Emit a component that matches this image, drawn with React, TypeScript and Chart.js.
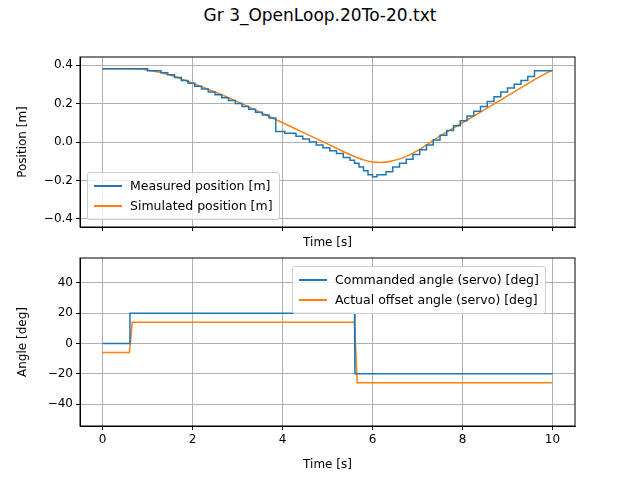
import Chart from "chart.js/auto";
import { useEffect, useRef } from "react";

const measT = [0, 1.0, 1.3, 1.45, 1.6, 1.75, 1.9, 2.05, 2.2, 2.35, 2.5, 2.65, 2.8, 2.95, 3.1, 3.25, 3.4, 3.55, 3.7, 3.85, 4.05, 4.3, 4.45, 4.6, 4.75, 4.9, 5.05, 5.2, 5.35, 5.5, 5.6, 5.7, 5.8, 5.9, 6.0, 6.1, 6.3, 6.45, 6.6, 6.75, 6.9, 7.05, 7.2, 7.35, 7.5, 7.65, 7.8, 7.95, 8.1, 8.25, 8.4, 8.55, 8.7, 8.85, 9.0, 9.15, 9.3, 9.45, 9.6, 9.75, 10.0];
const measY = [0.38, 0.38, 0.37, 0.36, 0.35, 0.335, 0.32, 0.305, 0.29, 0.275, 0.26, 0.245, 0.23, 0.215, 0.2, 0.185, 0.17, 0.155, 0.14, 0.125, 0.055, 0.045, 0.03, 0.015, 0.0, -0.015, -0.03, -0.045, -0.06, -0.08, -0.095, -0.11, -0.13, -0.15, -0.17, -0.18, -0.17, -0.155, -0.13, -0.11, -0.09, -0.065, -0.04, -0.015, 0.01, 0.035, 0.06, 0.085, 0.11, 0.135, 0.16, 0.185, 0.21, 0.235, 0.26, 0.28, 0.3, 0.32, 0.34, 0.37, 0.37];
const simT = [0, 0.5, 0.8, 1.0, 1.5, 2.0, 2.5, 3.0, 3.5, 4.0, 4.5, 5.0, 5.5, 5.8, 6.0, 6.2, 6.4, 6.7, 7.0, 7.5, 8.0, 8.5, 9.0, 9.5, 10.0];
const simY = [0.38, 0.38, 0.379, 0.374, 0.348, 0.306, 0.26, 0.21, 0.155, 0.1, 0.045, -0.01, -0.065, -0.093, -0.104, -0.106, -0.1, -0.08, -0.045, 0.03, 0.1, 0.17, 0.24, 0.31, 0.375];
const cmdT = [0, 0.6, 0.61, 5.6, 5.61, 10];
const cmdY = [0, 0, 20, 20, -20, -20];
const actT = [0, 0.6, 0.66, 5.6, 5.66, 10];
const actY = [-6, -6, 14, 14, -26, -26];

const FONT = "'DejaVu Sans', sans-serif";
const BLUE = "#1f77b4";
const ORANGE = "#ff7f0e";

const frame = {
  id: "frame",
  afterDraw(c: any) {
    const { ctx, chartArea: a } = c;
    ctx.save();
    ctx.strokeStyle = "#000";
    ctx.lineWidth = 1;
    ctx.strokeRect(a.left, a.top, a.right - a.left, a.bottom - a.top);
    ctx.restore();
  },
};

function makeChart(canvas: HTMLCanvasElement, sets: any[], yMin: number, yMax: number, yStep: number, yTitle: string, showX: boolean, padTop: number, padBottom: number, xH: number, dec: number) {
  const tickFont = { family: FONT, size: 12 };
  return new Chart(canvas, {
    type: "line",
    data: { datasets: sets },
    options: {
      animation: false,
      responsive: true,
      maintainAspectRatio: false,
      layout: { padding: { top: padTop, right: 65, left: 12, bottom: padBottom } },
      plugins: { legend: { display: false }, tooltip: { enabled: false } },
      elements: { point: { radius: 0 } },
      scales: {
        x: {
          type: "linear", min: -0.5, max: 10.5,
          afterBuildTicks: (s: any) => { s.ticks = [0, 2, 4, 6, 8, 10].map((v) => ({ value: v })); },
          afterFit: (s: any) => { s.height = xH; },
          grid: { color: "#b0b0b0", tickLength: 4, tickColor: "#000" },
          border: { color: "#000" },
          ticks: { display: showX, color: "#000", font: tickFont, maxRotation: 0 },
          title: { display: true, text: "Time [s]", color: "#000", font: tickFont, padding: { top: 2, bottom: 0 } },
        },
        y: {
          min: yMin, max: yMax,
          afterBuildTicks: (s: any) => {
            const t = [];
            for (let v = Math.ceil(yMin / yStep) * yStep; v <= yMax + 1e-9; v += yStep) t.push({ value: +v.toFixed(6) });
            s.ticks = t;
          },
          afterFit: (s: any) => { s.width = 68; },
          grid: { color: "#b0b0b0", tickLength: 4, tickColor: "#000" },
          border: { color: "#000" },
          ticks: { color: "#000", font: tickFont, callback: (v: any) => Number(v).toFixed(dec).replace("-", "\u2212") },
          title: { display: true, text: yTitle, color: "#000", font: tickFont },
        },
      },
    },
    plugins: [frame],
  });
}

function Legend({ items, style }: { items: [string, string][]; style: any }) {
  return (
    <div style={{ position: "absolute", background: "rgba(255,255,255,0.8)", border: "1px solid #ccc", borderRadius: 3, padding: "3px 6px", fontFamily: FONT, fontSize: 12.5, lineHeight: "20px", ...style }}>
      {items.map(([label, col]) => (
        <div key={label} style={{ display: "flex", alignItems: "center", whiteSpace: "nowrap" }}>
          <span style={{ display: "inline-block", width: 28, height: 2, background: col, marginRight: 8 }} />
          {label}
        </div>
      ))}
    </div>
  );
}

export default function App() {
  const topRef = useRef<HTMLCanvasElement | null>(null);
  const botRef = useRef<HTMLCanvasElement | null>(null);

  useEffect(() => {
    if (!topRef.current || !botRef.current) return;
    const line = { borderWidth: 1.5, fill: false, tension: 0 };
    const c1 = makeChart(topRef.current, [
      { ...line, label: "Measured position [m]", data: measT.map((t, i) => ({ x: t, y: measY[i] })), borderColor: BLUE, stepped: "after" },
      { ...line, label: "Simulated position [m]", data: simT.map((t, i) => ({ x: t, y: simY[i] })), borderColor: ORANGE, cubicInterpolationMode: "monotone" },
    ], -0.4416, 0.4416, 0.2, "Position [m]", false, 57, 10, 23, 1);
    const c2 = makeChart(botRef.current, [
      { ...line, label: "Commanded angle (servo) [deg]", data: cmdT.map((t, i) => ({ x: t, y: cmdY[i] })), borderColor: BLUE },
      { ...line, label: "Actual offset angle (servo) [deg]", data: actT.map((t, i) => ({ x: t, y: actY[i] })), borderColor: ORANGE },
    ], -54.5, 56.5, 20, "Angle [deg]", true, 18, 8, 46, 0);
    return () => { c1.destroy(); c2.destroy(); };
  }, []);

  return (
    <div style={{ position: "fixed", left: 0, top: 0, width: 640, height: 480, background: "#fff" }}>
      <div style={{ position: "absolute", top: 5, width: 640, textAlign: "center", fontFamily: FONT, fontSize: 17 }}>Gr 3_OpenLoop.20To-20.txt</div>
      <div style={{ position: "absolute", left: 0, top: 0, width: 640, height: 260 }}>
        <canvas ref={topRef} />
      </div>
      <div style={{ position: "absolute", left: 0, top: 240, width: 640, height: 240 }}>
        <canvas ref={botRef} />
      </div>
      <Legend items={[["Measured position [m]", BLUE], ["Simulated position [m]", ORANGE]]} style={{ left: 87, top: 172 }} />
      <Legend items={[["Commanded angle (servo) [deg]", BLUE], ["Actual offset angle (servo) [deg]", ORANGE]]} style={{ left: 292, top: 266 }} />
    </div>
  );
}
